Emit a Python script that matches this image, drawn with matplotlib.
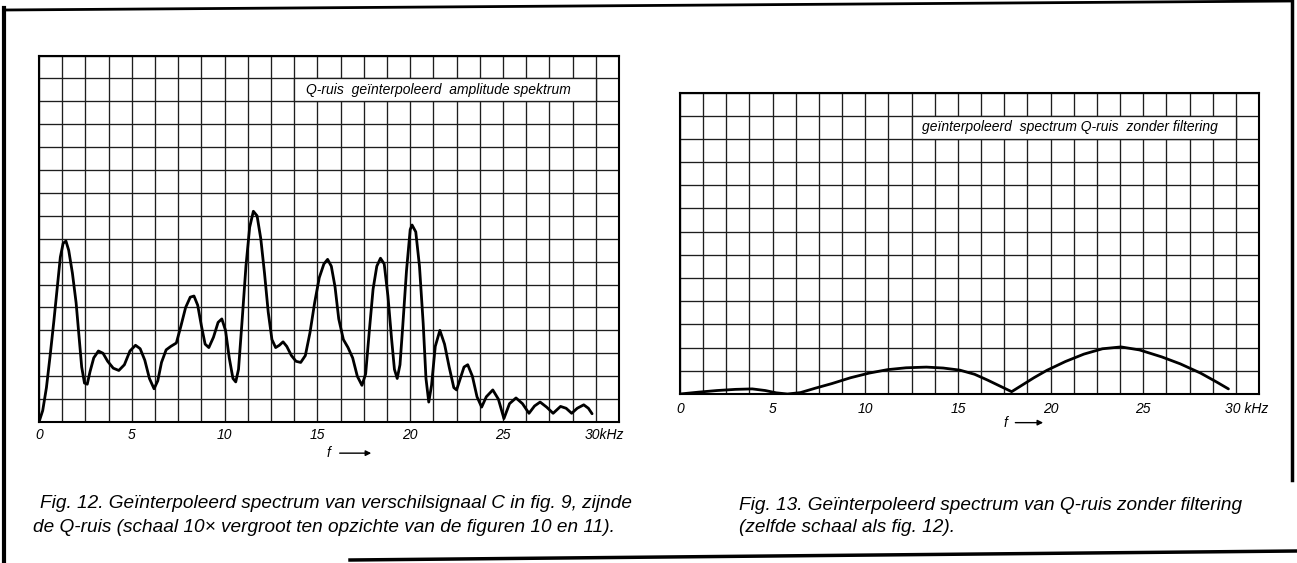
import matplotlib.pyplot as plt
from matplotlib.patches import Rectangle
from matplotlib.lines import Line2D
import numpy as np

# Fig. 12: interpolated Q-noise amplitude spectrum (f in kHz, amplitude in grid units)
f12 = [0.0, 0.2, 0.4, 0.6, 0.8, 1.0, 1.15, 1.3, 1.45, 1.6, 1.8, 2.0, 2.15, 2.3, 2.45,
       2.6, 2.75, 2.95, 3.2, 3.45, 3.7, 4.0, 4.3, 4.6, 4.9, 5.2, 5.45, 5.7, 5.95, 6.2,
       6.4, 6.6, 6.85, 7.1, 7.4, 7.65, 7.9, 8.15, 8.35, 8.55, 8.75, 8.95, 9.15, 9.4,
       9.65, 9.85, 10.05, 10.25, 10.45, 10.6, 10.75, 10.95, 11.15, 11.35, 11.55, 11.75,
       11.95, 12.15, 12.35, 12.55, 12.75, 12.95, 13.15, 13.35, 13.6, 13.85, 14.1, 14.35,
       14.6, 14.85, 15.1, 15.35, 15.55, 15.75, 15.95, 16.15, 16.4, 16.65, 16.9, 17.15,
       17.4, 17.6, 17.8, 18.0, 18.2, 18.4, 18.6, 18.8, 19.0, 19.15, 19.3, 19.45, 19.6,
       19.8, 20.0, 20.1, 20.3, 20.5, 20.7, 20.85, 21.0, 21.15, 21.35, 21.6, 21.85, 22.1,
       22.35, 22.5, 22.7, 22.9, 23.1, 23.35, 23.6, 23.85, 24.1, 24.45, 24.75, 25.05,
       25.35, 25.7, 26.05, 26.4, 26.7, 27.0, 27.35, 27.7, 28.1, 28.4, 28.7, 29.0, 29.35,
       29.6, 29.8]
a12 = [0.0, 0.5, 1.5, 2.9, 4.4, 6.0, 7.2, 7.8, 7.9, 7.5, 6.5, 5.2, 3.8, 2.4, 1.7,
       1.65, 2.2, 2.8, 3.1, 3.0, 2.65, 2.35, 2.25, 2.5, 3.1, 3.35, 3.2, 2.7, 1.9, 1.45,
       1.8, 2.6, 3.15, 3.3, 3.45, 4.2, 5.0, 5.45, 5.5, 5.1, 4.2, 3.4, 3.25, 3.7,
       4.35, 4.5, 4.0, 2.8, 1.9, 1.75, 2.3, 4.5, 6.8, 8.5, 9.2, 9.0,
       8.0, 6.5, 4.8, 3.6, 3.25, 3.35, 3.5, 3.3, 2.9, 2.65, 2.6, 2.9,
       3.9, 5.2, 6.3, 6.9, 7.1, 6.8, 5.9, 4.5, 3.6, 3.25, 2.8, 2.0,
       1.6, 2.1, 4.0, 5.8, 6.8, 7.15, 6.9, 5.5, 3.6, 2.3, 1.9, 2.5, 4.2,
       6.6, 8.4, 8.6, 8.3, 6.8, 4.3, 1.9, 0.87, 1.6, 3.3, 4.0, 3.4, 2.4,
       1.5, 1.4, 1.9, 2.4, 2.5, 2.0, 1.1, 0.65, 1.1, 1.4, 1.0, 0.15,
       0.8, 1.05, 0.8, 0.38, 0.7, 0.87, 0.65, 0.38, 0.68, 0.6, 0.38, 0.6, 0.75,
       0.6, 0.36]

# Fig. 13: Q-noise spectrum without filtering
f13 = [0, 1.0, 2.0, 3.0, 3.9, 4.6, 5.2, 5.8, 6.5, 7.3, 8.2, 9.2, 10.2, 11.2, 12.2,
       13.3, 14.2, 15.1, 15.9, 16.6, 17.3, 17.9, 18.4, 19.1, 19.8, 20.8, 21.8, 22.8,
       23.8, 24.8, 26.0, 27.0, 28.1, 29.0, 29.6]
a13 = [0, 0.08, 0.15, 0.2, 0.22, 0.15, 0.05, 0.0, 0.06, 0.25, 0.45, 0.7, 0.9, 1.05, 1.13,
       1.16, 1.12, 1.03, 0.85, 0.6, 0.33, 0.1, 0.35, 0.7, 1.02, 1.4, 1.72, 1.95,
       2.03, 1.9, 1.6, 1.3, 0.9, 0.5, 0.22]

tick_khz = [0, 5, 10, 15, 20, 25, 30]
ticks12 = ['0', '5', '10', '15', '20', '25', '30kHz']
ticks13 = ['0', '5', '10', '15', '20', '25', '30 kHz']
title12 = 'Q-ruis  geïnterpoleerd  amplitude spektrum'
title13 = 'geïnterpoleerd  spectrum Q-ruis  zonder filtering'
caption12 = ['Fig. 12. Geïnterpoleerd spectrum van verschilsignaal C in fig. 9, zijnde',
             'de Q-ruis (schaal 10\u00d7 vergroot ten opzichte van de figuren 10 en 11).']
caption13 = ['Fig. 13. Geïnterpoleerd spectrum van Q-ruis zonder filtering',
             '(zelfde schaal als fig. 12).']

W, H = 1297, 563
fig = plt.figure(figsize=(W / 100, H / 100), dpi=100)
plt.rcParams['font.family'] = ['Liberation Sans', 'DejaVu Sans']


def px_axes(x0, y0, x1, y1):
    return fig.add_axes([x0 / W, 1 - y1 / H, (x1 - x0) / W, (y1 - y0) / H])


def setup(ax, rows, labels, lpad, box, title, tx, farrow):
    ax.set_xlim(0, 31.25)
    ax.set_ylim(0, rows)
    ax.set_xticks(np.arange(0, 31.3, 1.25))
    ax.set_yticks(np.arange(0, rows + 1))
    ax.tick_params(length=0, labelbottom=False, labelleft=False)
    ax.set_axisbelow(True)
    ax.grid(True, color='#1e1e1e', lw=0.95)
    for s in ax.spines.values():
        s.set_linewidth(1.5)
    # white label box over the grid
    ax.add_patch(Rectangle((box[0], box[1]), box[2] - box[0], 1, facecolor='white',
                           edgecolor='#1e1e1e', lw=0.95, zorder=1.5))
    ax.text(tx, box[1] + 0.5, title, style='italic', fontsize=10, ha='left',
            va='center', zorder=4)
    for k, lab in zip(tick_khz, labels):
        if k == 30:
            ax.annotate(lab, xy=(k, 0), xycoords=('data', 'axes fraction'),
                        xytext=(-8, -lpad), textcoords='offset points', ha='left',
                        va='top', fontsize=10, style='italic', annotation_clip=False)
        else:
            ax.annotate(lab, xy=(k, 0), xycoords=('data', 'axes fraction'),
                        xytext=(0, -lpad), textcoords='offset points', ha='center',
                        va='top', fontsize=10, style='italic', annotation_clip=False)
    fx, a0, a1, fy = farrow
    ax.text(fx, fy, 'f', style='italic', fontsize=10, ha='center', va='center',
            transform=ax.get_xaxis_transform())
    ax.annotate('', xy=(a1, fy), xytext=(a0, fy),
                xycoords=('data', 'axes fraction'), annotation_clip=False,
                arrowprops=dict(arrowstyle='-|>', lw=1.0, color='black',
                                mutation_scale=8, shrinkA=0, shrinkB=0))


ax1 = px_axes(39, 55.5, 619, 422)
setup(ax1, 16, ticks12, 4, (13.75, 14, 30), title12, 14.4, (15.6, 16.2, 17.9, -0.085))
ax1.plot(f12, a12, color='black', lw=2.0, solid_joinstyle='round',
         solid_capstyle='round', zorder=3)

ax2 = px_axes(680, 92.5, 1259, 394)
setup(ax2, 13, ticks13, 6, (12.5, 11, 30), title13, 13.05, (17.55, 18.1, 19.6, -0.095))
ax2.plot(f13, a13, color='black', lw=2.0, solid_joinstyle='round',
         solid_capstyle='round', zorder=3)

for i, line in enumerate(caption12):
    fig.text([40, 33][i] / W, 1 - [503, 527][i] / H, line, fontsize=13.7,
             style='italic', va='center', ha='left')
for i, line in enumerate(caption13):
    fig.text(739 / W, 1 - [505, 528][i] / H, line, fontsize=13.7,
             style='italic', va='center', ha='left')

# page frame pieces
frame = [((4, 4), (8, 563), 3.0), ((4, 1292), (10, 1), 2.0),
         ((1292, 1292), (0, 480), 2.5), ((350, 1297), (560, 551), 2.5)]
for xs, ys, lw in frame:
    fig.add_artist(Line2D([x / W for x in xs], [1 - y / H for y in ys],
                          color='black', lw=lw, transform=fig.transFigure))

fig.savefig('out.png', dpi=100)
